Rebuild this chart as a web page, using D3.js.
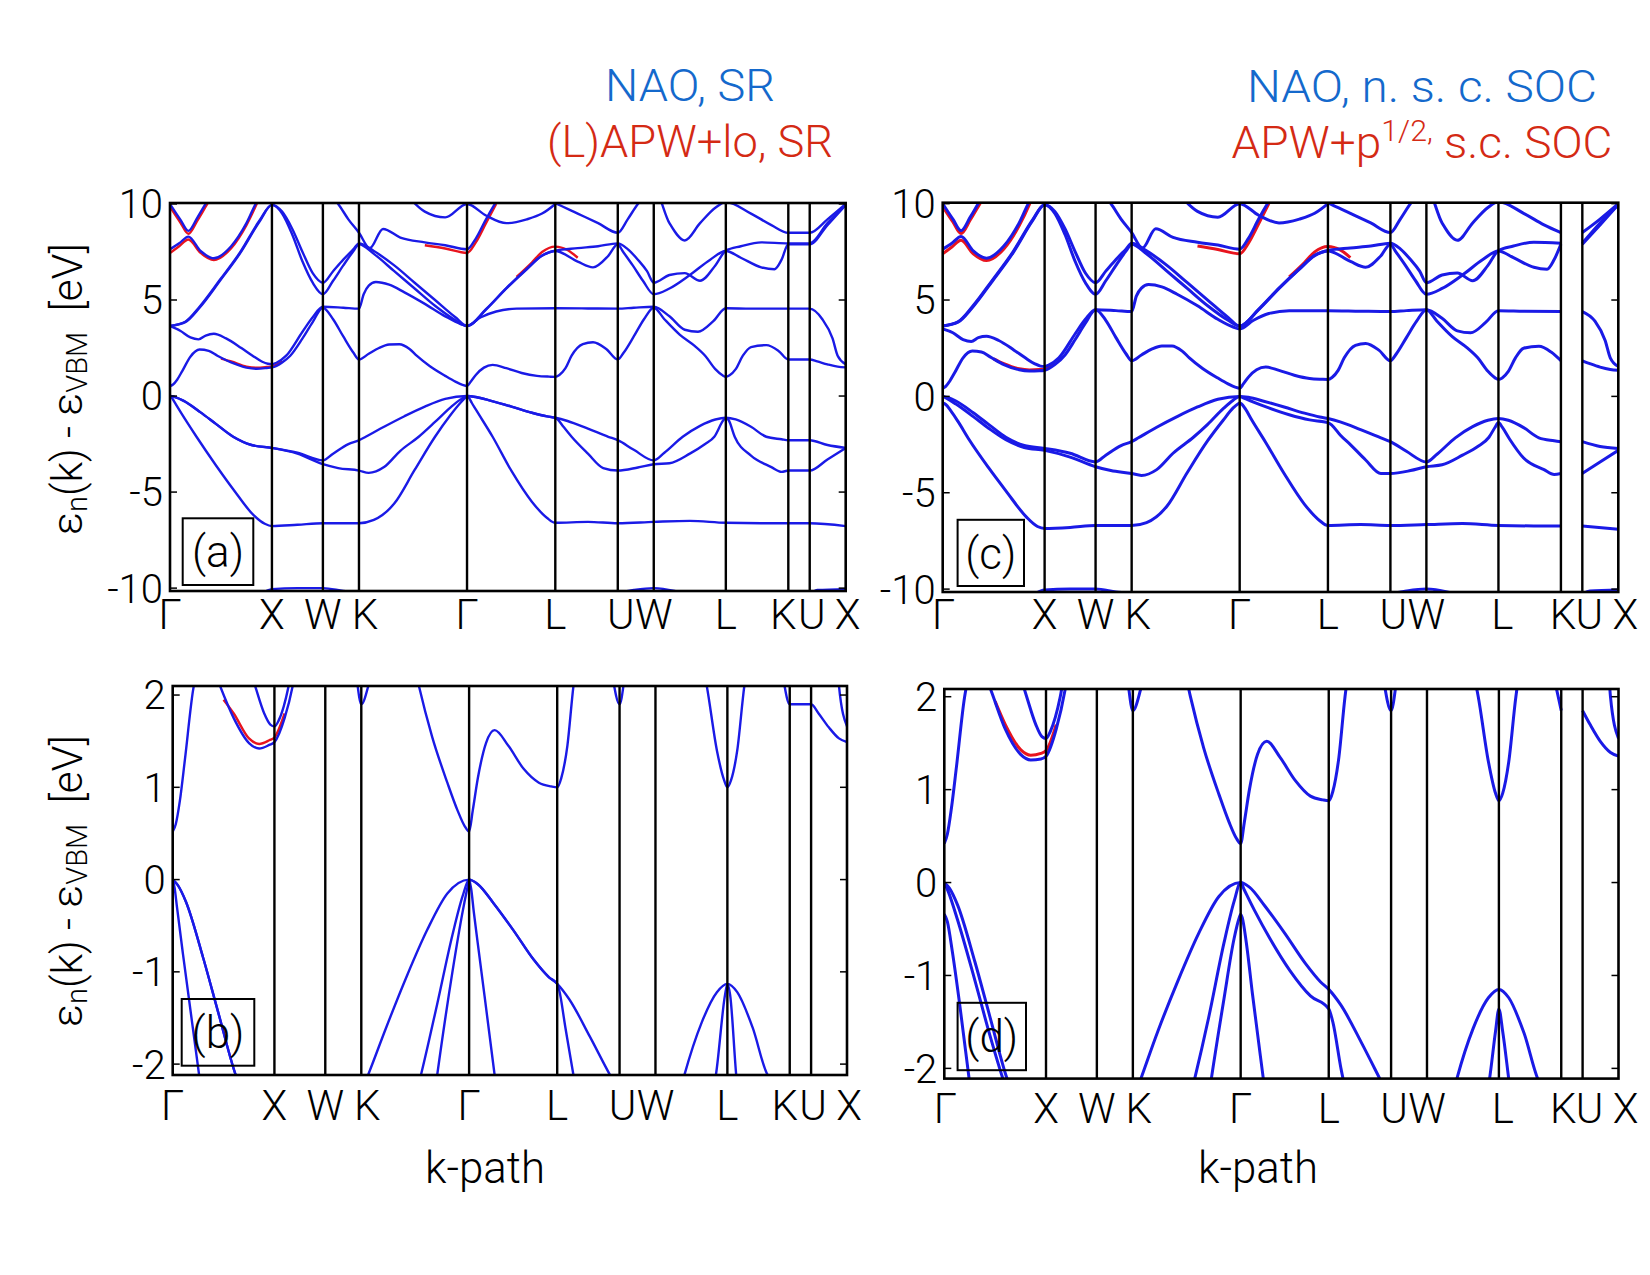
<!DOCTYPE html>
<html><head><meta charset="utf-8">
<script src="https://cdn.jsdelivr.net/npm/d3@7"></script>
<style>
body{margin:0;background:#fff}
svg{display:block}
text{font-family:Roboto,"Open Sans","Liberation Sans",sans-serif;font-weight:300}
</style></head>
<body><svg id="fig" width="1650" height="1275"></svg>
<script>
// ---------- k-path ----------
const kLabels = ["Γ","X","W","K","Γ","L","U","W","L","K","U","X"];
const kPoints = [0, 1, 1.5, 1.854, 2.914, 3.780, 4.393, 4.746, 5.453, 6.066, 6.276, 6.629];
const ticksTop = [-10, -5, 0, 5, 10];
const ticksBottom = [-2, -1, 0, 1, 2];
const G = "gap"; // marks the K|U break of the k-path

// ---------- SR bands (NAO, blue) ----------
const srB1 = [[0,-12.8],[0.4,-12.0],[0.8,-10.6],[1,-10.05],[1.25,-10.0],[1.5,-10.0],[1.7,-10.15],[1.854,-10.25],[2.3,-11.5],[2.914,-12.8],[3.4,-11.5],[3.78,-10.9],[4.1,-10.5],[4.393,-10.25],[4.55,-10.1],[4.746,-10.0],[4.95,-10.15],[5.2,-10.6],[5.453,-10.9],[5.8,-10.5],[6.066,-10.25],G,[6.276,-10.25],[6.35,-10.1],[6.629,-10.05]];
const srB2 = [[0,0],[0.02,-0.1],[0.04,-0.28],[0.1,-0.8],[0.26,-2.12],[0.45,-3.6],[0.62,-4.85],[0.82,-6.2],[0.93,-6.65],[1,-6.77],[1.25,-6.7],[1.5,-6.62],[1.854,-6.62],[2.0,-6.45],[2.2,-5.6],[2.4,-3.85],[2.6,-2.12],[2.75,-1.0],[2.85,-0.35],[2.895,-0.1],[2.914,0],[2.934,-0.1],[2.96,-0.35],[3.0,-0.7],[3.165,-2.12],[3.35,-3.9],[3.55,-5.5],[3.7,-6.35],[3.78,-6.6],[4.1,-6.55],[4.393,-6.62],[4.746,-6.55],[5.1,-6.5],[5.453,-6.6],[5.8,-6.62],[6.066,-6.62],G,[6.276,-6.62],[6.629,-6.77]];
const srB3 = [[0,0],[0.05,-0.06],[0.13,-0.24],[0.3,-0.85],[0.45,-1.45],[0.62,-2.12],[0.8,-2.55],[1,-2.7],[1.25,-3.0],[1.5,-3.55],[1.65,-3.75],[1.854,-3.88],[1.95,-4.0],[2.1,-3.7],[2.26,-2.85],[2.44,-2.12],[2.6,-1.35],[2.75,-0.6],[2.85,-0.18],[2.914,0],[3.0,-0.05],[3.15,-0.25],[3.35,-0.55],[3.55,-0.87],[3.7,-1.06],[3.78,-1.13],[3.8,-1.2],[3.86,-1.6],[3.94,-2.12],[4.1,-3.0],[4.25,-3.75],[4.393,-3.88],[4.59,-3.72],[4.746,-3.55],[4.9,-3.5],[5.1,-3.0],[5.25,-2.5],[5.34,-2.12],[5.43,-1.25],[5.453,-1.13],[5.48,-1.25],[5.54,-2.12],[5.7,-3.1],[5.9,-3.7],[6.0,-3.95],[6.066,-3.88],G,[6.276,-3.88],[6.45,-3.3],[6.629,-2.7]];
const srB4 = [[0,0],[0.05,-0.06],[0.13,-0.24],[0.3,-0.85],[0.45,-1.45],[0.62,-2.12],[0.8,-2.55],[1,-2.7],[1.25,-2.95],[1.5,-3.35],[1.6,-3.0],[1.75,-2.5],[1.854,-2.3],[1.92,-2.12],[2.1,-1.6],[2.3,-1.05],[2.5,-0.55],[2.7,-0.15],[2.914,0],[3.0,-0.05],[3.15,-0.25],[3.35,-0.55],[3.55,-0.87],[3.7,-1.06],[3.78,-1.13],[3.9,-1.3],[4.1,-1.7],[4.3,-2.12],[4.393,-2.3],[4.55,-2.8],[4.746,-3.35],[4.85,-2.95],[5.03,-2.12],[5.2,-1.55],[5.35,-1.22],[5.453,-1.13],[5.55,-1.22],[5.7,-1.6],[5.85,-2.12],[6.0,-2.25],[6.066,-2.3],G,[6.276,-2.3],[6.45,-2.55],[6.629,-2.7]];
const srB5 = [[0,0.52],[0.03,0.6],[0.07,0.85],[0.12,1.3],[0.2,2.05],[0.29,2.42],[0.38,2.35],[0.465,2.1],[0.6,1.75],[0.75,1.48],[0.85,1.42],[0.95,1.46],[1,1.49],[1.1,1.75],[1.18,2.1],[1.3,3.0],[1.4,3.85],[1.5,4.6],[1.6,4.0],[1.7,3.1],[1.8,2.25],[1.854,1.9],[1.95,2.2],[2.05,2.5],[2.15,2.68],[2.25,2.7],[2.35,2.45],[2.42,2.1],[2.55,1.55],[2.7,1.05],[2.8,0.75],[2.87,0.58],[2.914,0.52],[2.95,0.75],[3.0,1.1],[3.08,1.48],[3.165,1.62],[3.3,1.45],[3.45,1.2],[3.6,1.05],[3.72,1.01],[3.78,1.0],[3.82,1.1],[3.88,1.45],[3.94,2.1],[4.05,2.7],[4.15,2.8],[4.28,2.45],[4.393,1.9],[4.45,2.25],[4.55,3.1],[4.65,4.0],[4.746,4.6],[4.85,4.0],[5.0,3.2],[5.15,2.6],[5.25,2.1],[5.35,1.4],[5.42,1.08],[5.453,1.0],[5.49,1.08],[5.55,1.4],[5.62,2.1],[5.7,2.55],[5.85,2.65],[5.97,2.35],[6.066,1.9],G,[6.276,1.9],[6.35,1.8],[6.45,1.65],[6.55,1.53],[6.629,1.49]];
const srB6 = [[0,3.65],[0.1,3.4],[0.2,3.05],[0.28,2.95],[0.35,3.15],[0.43,3.24],[0.55,3.0],[0.7,2.5],[0.81,2.1],[0.9,1.8],[0.96,1.68],[1,1.66],[1.04,1.72],[1.14,2.1],[1.3,3.35],[1.4,4.1],[1.5,4.65],[1.7,4.6],[1.854,4.55],[1.9,5.3],[1.95,5.75],[2.02,5.94],[2.15,5.8],[2.3,5.4],[2.5,4.8],[2.7,4.15],[2.85,3.75],[2.914,3.65],[3.05,4.1],[3.2,4.4],[3.4,4.55],[3.78,4.57],[4.1,4.56],[4.393,4.55],[4.55,4.6],[4.746,4.65],[4.9,4.15],[5.05,3.45],[5.18,3.35],[5.33,3.9],[5.453,4.57],[5.7,4.55],[6.066,4.55],G,[6.276,4.55],[6.4,4.0],[6.5,3.0],[6.55,2.1],[6.629,1.66]];
const srB7 = [[0,3.65],[0.15,3.85],[0.29,4.6],[0.49,6.0],[0.69,7.45],[0.88,9.1],[1,9.95],[1.1,9.5],[1.2,8.4],[1.3,7.0],[1.4,5.9],[1.5,5.3],[1.6,6.0],[1.7,6.8],[1.8,7.55],[1.854,7.9],[2.0,7.4],[2.2,6.5],[2.4,5.6],[2.6,4.7],[2.8,3.95],[2.914,3.65],[3.1,4.5],[3.3,5.6],[3.5,6.6],[3.65,7.3],[3.78,7.55],[4.0,7.0],[4.15,6.7],[4.3,7.3],[4.393,7.9],[4.44,7.55],[4.54,6.8],[4.64,6.0],[4.746,5.3],[4.9,5.6],[5.1,6.3],[5.3,7.1],[5.453,7.55],[5.6,7.2],[5.8,6.7],[5.93,6.6],[6.0,7.1],[6.066,7.9],G,[6.276,7.9],[6.45,8.9],[6.629,9.95]];
const srB8 = [[0,3.65],[0.15,3.87],[0.29,4.65],[0.49,6.05],[0.69,7.5],[0.88,9.15],[1,9.95],[1.1,9.6],[1.2,8.7],[1.3,7.5],[1.4,6.4],[1.5,5.9],[1.6,6.5],[1.7,7.1],[1.8,7.65],[1.854,7.95],[2.0,7.55],[2.2,6.8],[2.4,5.9],[2.6,5.0],[2.8,4.1],[2.914,3.65],[3.1,4.52],[3.3,5.62],[3.5,6.62],[3.65,7.32],[3.78,7.57],[4.0,7.7],[4.2,7.8],[4.393,7.95],[4.49,7.65],[4.59,7.1],[4.68,6.5],[4.746,5.9],[4.9,6.3],[5.05,6.4],[5.2,6.0],[5.35,6.8],[5.453,7.57],[5.6,7.8],[5.8,8.0],[6.066,7.95],G,[6.276,7.95],[6.45,9.0],[6.629,9.95]];
const srB9 = [[0,7.64],[0.09,7.95],[0.18,8.3],[0.3,7.55],[0.43,7.17],[0.6,7.8],[0.75,9.0],[0.85,10.1],[1.0,11.0],[1.25,11.2],[1.5,10.8],[1.65,10.0],[1.75,9.2],[1.854,8.5],[1.96,7.7],[2.09,8.7],[2.26,8.25],[2.5,8.0],[2.7,7.85],[2.914,7.64],[3.0,8.2],[3.1,9.2],[3.2,10.1],[3.4,11.0],[3.6,10.6],[3.78,10.05],[4.0,9.5],[4.2,9.0],[4.393,8.5],[4.49,9.2],[4.59,10.0],[4.746,10.8],[4.9,9.0],[5.05,8.1],[5.2,9.0],[5.35,9.8],[5.453,10.1],[5.7,9.5],[5.9,8.9],[6.066,8.5],G,[6.276,8.5],[6.45,9.2],[6.629,10.0]];
const srB10 = [[0,10.0],[0.1,9.2],[0.18,8.6],[0.27,9.3],[0.36,10.1],[0.45,10.8],[0.6,11.5],null,[2.3,10.6],[2.5,9.6],[2.7,9.3],[2.914,10.0],[3.1,9.4],[3.3,9.0],[3.5,9.2],[3.65,9.5],[3.78,10.0],[3.9,10.6]];

// ---------- SR bands ((L)APW+lo, red) where they differ visibly ----------
const srRed5 = [[0.5,1.95],[0.6,1.8],[0.75,1.53],[0.85,1.47],[0.95,1.51],[1,1.54],[1.1,1.8]];
const srRed7 = [[3.4,6.2],[3.55,6.95],[3.65,7.5],[3.78,7.78],[3.9,7.6],[4.0,7.2]];
const srRed9 = [[0,7.45],[0.09,7.8],[0.18,8.15],[0.3,7.45],[0.43,7.08],[0.6,7.7],[0.75,8.9],[0.85,10.0],[0.9,10.6],null,[2.5,7.85],[2.7,7.68],[2.914,7.45],[3.0,8.0],[3.1,9.0],[3.2,10.0]];
const srRed10 = [[0,9.85],[0.1,9.05],[0.18,8.45],[0.27,9.15],[0.36,9.95],[0.45,10.7]];

// ---------- SOC bands (NAO n.s.c. SOC, blue) ----------
const socSO = [[0,-0.34],[0.03,-0.42],[0.08,-0.75],[0.15,-1.3],[0.26,-2.25],[0.45,-3.7],[0.62,-4.9],[0.82,-6.25],[0.93,-6.75],[1,-6.85],[1.25,-6.8],[1.5,-6.7],[1.854,-6.7],[2.0,-6.55],[2.2,-5.7],[2.4,-3.95],[2.6,-2.3],[2.75,-1.25],[2.85,-0.6],[2.9,-0.38],[2.914,-0.34],[2.93,-0.38],[2.97,-0.65],[3.03,-1.2],[3.165,-2.35],[3.35,-4.0],[3.55,-5.6],[3.7,-6.45],[3.78,-6.7],[4.1,-6.65],[4.393,-6.7],[4.746,-6.65],[5.1,-6.6],[5.453,-6.7],[5.8,-6.72],[6.066,-6.72],G,[6.276,-6.72],[6.629,-6.9]];
const socLH = [[0,0],[0.04,-0.1],[0.13,-0.4],[0.3,-1.05],[0.45,-1.65],[0.62,-2.25],[0.8,-2.65],[1,-2.8],[1.25,-3.15],[1.5,-3.65],[1.65,-3.85],[1.854,-4.0],[1.95,-4.1],[2.1,-3.8],[2.26,-2.95],[2.46,-2.12],[2.6,-1.45],[2.75,-0.65],[2.85,-0.2],[2.914,0],[2.95,-0.08],[3.05,-0.3],[3.2,-0.6],[3.4,-0.95],[3.6,-1.22],[3.78,-1.36],[3.82,-1.5],[3.9,-2.0],[4.0,-2.5],[4.15,-3.3],[4.3,-4.0],[4.393,-4.0],[4.59,-3.85],[4.746,-3.65],[4.9,-3.55],[5.1,-3.05],[5.25,-2.6],[5.36,-2.12],[5.42,-1.6],[5.453,-1.36],[5.49,-1.6],[5.56,-2.2],[5.7,-3.2],[5.9,-3.8],[6.0,-4.05],[6.066,-4.0],G,[6.276,-4.0],[6.45,-3.4],[6.629,-2.8]];
const socHH = [[0,0],[0.05,-0.06],[0.13,-0.24],[0.3,-0.85],[0.45,-1.45],[0.62,-2.12],[0.8,-2.55],[1,-2.7],[1.25,-2.95],[1.5,-3.4],[1.6,-3.05],[1.75,-2.55],[1.854,-2.35],[1.92,-2.15],[2.1,-1.6],[2.3,-1.05],[2.5,-0.55],[2.7,-0.15],[2.914,0],[3.0,-0.05],[3.15,-0.25],[3.35,-0.55],[3.55,-0.87],[3.7,-1.07],[3.78,-1.15],[3.9,-1.32],[4.1,-1.72],[4.3,-2.15],[4.393,-2.35],[4.55,-2.85],[4.746,-3.4],[4.85,-3.0],[5.03,-2.15],[5.2,-1.57],[5.35,-1.24],[5.453,-1.15],[5.55,-1.24],[5.7,-1.62],[5.85,-2.15],[6.0,-2.3],[6.066,-2.35],G,[6.276,-2.35],[6.45,-2.6],[6.629,-2.7]];
const socC1 = [[0,0.42],[0.03,0.52],[0.07,0.8],[0.12,1.25],[0.2,2.0],[0.29,2.35],[0.38,2.3],[0.465,2.05],[0.6,1.65],[0.75,1.38],[0.85,1.32],[0.95,1.33],[1,1.36],[1.1,1.65],[1.2,2.15],[1.3,2.95],[1.4,3.8],[1.5,4.5],[1.6,3.95],[1.7,3.05],[1.8,2.2],[1.854,1.85],[1.95,2.15],[2.05,2.45],[2.15,2.62],[2.25,2.62],[2.35,2.35],[2.42,2.0],[2.55,1.45],[2.7,0.95],[2.8,0.65],[2.87,0.48],[2.914,0.42],[2.95,0.65],[3.0,1.0],[3.08,1.38],[3.17,1.52],[3.3,1.35],[3.45,1.1],[3.6,0.93],[3.72,0.89],[3.78,0.88],[3.82,0.98],[3.88,1.35],[3.94,2.0],[4.05,2.65],[4.15,2.75],[4.28,2.4],[4.393,1.85],[4.45,2.2],[4.55,3.05],[4.65,3.9],[4.746,4.5],[4.85,3.9],[5.0,3.1],[5.15,2.5],[5.25,2.0],[5.35,1.3],[5.42,0.96],[5.453,0.88],[5.49,0.96],[5.55,1.3],[5.62,2.0],[5.7,2.5],[5.85,2.6],[5.97,2.3],[6.066,1.85],G,[6.276,1.85],[6.35,1.7],[6.45,1.52],[6.55,1.4],[6.629,1.36]];
const socC2 = [[0,3.5],[0.1,3.3],[0.2,2.95],[0.28,2.85],[0.35,3.05],[0.43,3.12],[0.55,2.9],[0.7,2.4],[0.81,2.0],[0.9,1.7],[0.96,1.57],[1,1.55],[1.04,1.62],[1.14,2.0],[1.3,3.25],[1.4,4.0],[1.5,4.5],[1.7,4.45],[1.854,4.4],[1.9,5.2],[1.95,5.62],[2.02,5.8],[2.15,5.68],[2.3,5.3],[2.5,4.7],[2.7,4.0],[2.85,3.6],[2.914,3.5],[3.05,3.95],[3.2,4.3],[3.4,4.45],[3.78,4.45],[4.1,4.42],[4.393,4.4],[4.55,4.45],[4.746,4.5],[4.9,4.05],[5.05,3.4],[5.18,3.3],[5.33,3.85],[5.453,4.45],[5.7,4.42],[6.066,4.4],G,[6.276,4.4],[6.4,3.9],[6.5,2.9],[6.55,2.0],[6.629,1.55]];

// ---------- SOC bands (APW+p1/2 s.c. SOC, red) where they differ visibly ----------
const socRed1 = [[0.5,1.95],[0.6,1.7],[0.75,1.43],[0.85,1.37],[0.95,1.39],[1,1.42],[1.1,1.7]];
const socRed9 = [[0,7.4],[0.09,7.75],[0.18,8.1],[0.3,7.4],[0.43,7.05],[0.6,7.65],[0.75,8.85],[0.85,9.95],[0.9,10.6],null,[2.5,7.8],[2.7,7.62],[2.914,7.4],[3.0,7.95],[3.1,8.95],[3.2,10.0]];

const legendA = ["NAO, SR", "(L)APW+lo, SR"];
const legendC = ["NAO, n. s. c. SOC", "APW+p", "1/2,", " s.c. SOC"];
const yTitle = ["ε", "n", "(k) - ε", "VBM", "  [eV]"];
const xTitle = "k-path";

// ---------- drawing ----------
const svg = d3.select("#fig");
const BLUE = "#1a1ae6", RED = "#e8141e";
const srBlue = [srB1,srB2,srB3,srB4,srB5,srB6,srB7,srB8,srB9,srB10];
const srRed = [srRed5,srRed7,srRed9,srRed10];
const socBlue = [srB1,socSO,socLH,socHH,socC1,socC2,srB7,srB8,srB9,srB10];
const socRed = [socRed1,srRed7,socRed9,srRed10];

const panels = [
  {id:"a", x:[170,845.7], y:[591,203], dom:[-10.15,10.05], ticks:ticksTop, blue:srBlue, red:srRed, gapKU:false, lw:2.4, box:[182.7,518.3,70.6,66.7], tag:"(a)", lab:37.5, dx:[0,0,0,6,0,0,3,0,0,-5,2,2]},
  {id:"b", x:[172.7,847], y:[1075,686], dom:[-2.118,2.098], ticks:ticksBottom, blue:srBlue, red:srRed, gapKU:false, lw:2.4, box:[181.7,999,72.6,66.7], tag:"(b)", lab:45, dx:[0,0,0,6,0,0,3,0,0,-5,2,2]},
  {id:"c", x:[942.7,1618.3], y:[592,202.7], dom:[-10.15,10.05], ticks:ticksTop, blue:socBlue, red:socRed, gapKU:true, lw:3.0, box:[957.6,519.8,66.4,66.2], tag:"(c)", lab:37, dx:[1,0,0,6,0,0,3,0,4,2,7,7]},
  {id:"d", x:[944.3,1618.5], y:[1078.6,689], dom:[-2.11,2.083], ticks:ticksBottom, blue:socBlue, red:socRed, gapKU:true, lw:3.0, box:[957.6,1002.8,68.4,67.4], tag:"(d)", lab:44, dx:[1,0,0,6,0,0,3,0,4,2,7,7]}
];

panels.forEach(p => {
  const xs = d3.scaleLinear().domain([0, kPoints[kPoints.length-1]]).range(p.x);
  const ys = d3.scaleLinear().domain(p.dom).range(p.y);
  const g = svg.append("g");
  const clipId = "clip-" + p.id;
  svg.append("clipPath").attr("id", clipId).append("rect")
    .attr("x", p.x[0]).attr("y", p.y[1]).attr("width", p.x[1]-p.x[0]).attr("height", p.y[0]-p.y[1]);
  const line = d3.line().defined(d => Array.isArray(d)).x(d => xs(d[0])).y(d => ys(d[1])).curve(d3.curveMonotoneX);
  // SR panels run straight through K|U; SOC panels leave the K|U strip empty
  const prep = b => p.gapKU ? b : b.filter(d => d !== G);
  const bands = g.append("g").attr("clip-path", `url(#${clipId})`);
  p.red.forEach(b => bands.append("path").attr("d", line(prep(b))).attr("fill","none").attr("stroke",RED).attr("stroke-width",p.lw));
  p.blue.forEach(b => bands.append("path").attr("d", line(prep(b))).attr("fill","none").attr("stroke",BLUE).attr("stroke-width",p.lw));
  // vertical high-symmetry lines
  g.selectAll("line.v").data(kPoints.slice(1,-1)).enter().append("line")
    .attr("x1", d => xs(d)).attr("x2", d => xs(d)).attr("y1", p.y[0]).attr("y2", p.y[1])
    .attr("stroke","#000").attr("stroke-width",2.4);
  // frame
  g.append("rect").attr("x", p.x[0]).attr("y", p.y[1]).attr("width", p.x[1]-p.x[0]).attr("height", p.y[0]-p.y[1])
    .attr("fill","none").attr("stroke","#000").attr("stroke-width",2.6);
  // y ticks (inward, both sides)
  p.ticks.forEach(t => {
    const yy = ys(t);
    g.append("line").attr("x1", p.x[0]).attr("x2", p.x[0]+7).attr("y1", yy).attr("y2", yy).attr("stroke","#000").attr("stroke-width",1.5);
    g.append("line").attr("x1", p.x[1]).attr("x2", p.x[1]-7).attr("y1", yy).attr("y2", yy).attr("stroke","#000").attr("stroke-width",1.5);
    g.append("text").attr("x", p.x[0]-7).attr("y", yy).attr("dy","0.36em").attr("text-anchor","end")
      .attr("font-size", 40).attr("fill","#000").text(t);
  });
  // x tick labels
  kLabels.forEach((lab, i) => {
    g.append("text").attr("x", xs(kPoints[i]) + p.dx[i]).attr("y", p.y[0] + p.lab)
      .attr("text-anchor","middle").attr("font-size", 42).attr("fill","#000").text(lab);
  });
  // panel tag box
  g.append("rect").attr("x", p.box[0]).attr("y", p.box[1]).attr("width", p.box[2]).attr("height", p.box[3])
    .attr("fill","none").attr("stroke","#000").attr("stroke-width",2);
  g.append("text").attr("x", p.box[0]+p.box[2]/2).attr("y", p.box[1]+p.box[3]/2).attr("dy","0.36em")
    .attr("text-anchor","middle").attr("font-size",44).attr("fill","#000").text(p.tag);
});

function fitWidth(sel, cx, target) {
  const w = sel.node().getBBox().width;
  const s = target / w;
  sel.attr("transform", `translate(${cx},0) scale(${s},1) translate(${-cx},0)`);
}

// y-axis titles
[[82, 389],[82, 881]].forEach(([x,y]) => {
  const t = svg.append("text").attr("x",0).attr("y",0)
    .attr("text-anchor","middle").attr("font-size",42).attr("fill","#000");
  t.append("tspan").text(yTitle[0]);
  t.append("tspan").attr("font-size",29).attr("dy",5).text(yTitle[1]);
  t.append("tspan").attr("dy",-5).text(yTitle[2]);
  t.append("tspan").attr("font-size",29).attr("dy",5).text(yTitle[3]);
  t.append("tspan").attr("dy",-5).attr("xml:space","preserve").text(yTitle[4]);
  const w = t.node().getBBox().width;
  t.attr("transform", `translate(${x},${y}) rotate(-90) scale(${292/w},1)`);
});
// x-axis titles
[[485,1183],[1258,1183]].forEach(([x,y]) => {
  const t = svg.append("text").attr("x",x).attr("y",y).attr("text-anchor","middle").attr("font-size",44).attr("fill","#000").text(xTitle);
  fitWidth(t, x, 120);
});
// legends
const LBLUE = "#1469cc", LRED = "#d42a14";
const l1 = svg.append("text").attr("x",690).attr("y",100.7).attr("text-anchor","middle").attr("font-size",44).attr("fill",LBLUE).text(legendA[0]);
fitWidth(l1, 690, 170);
const l2 = svg.append("text").attr("x",690).attr("y",156.7).attr("text-anchor","middle").attr("font-size",44).attr("fill",LRED).text(legendA[1]);
fitWidth(l2, 690, 286);
const l3 = svg.append("text").attr("x",1422).attr("y",101.7).attr("text-anchor","middle").attr("font-size",44).attr("fill",LBLUE).text(legendC[0]);
fitWidth(l3, 1422, 350);
const lc = svg.append("text").attr("x",1422).attr("y",158).attr("text-anchor","middle").attr("font-size",44).attr("fill",LRED);
lc.append("tspan").text(legendC[1]);
lc.append("tspan").attr("font-size",29).attr("dy",-17).text(legendC[2]);
lc.append("tspan").attr("dy",17).attr("xml:space","preserve").text(legendC[3]);
fitWidth(lc, 1422, 381);
</script></body></html>
